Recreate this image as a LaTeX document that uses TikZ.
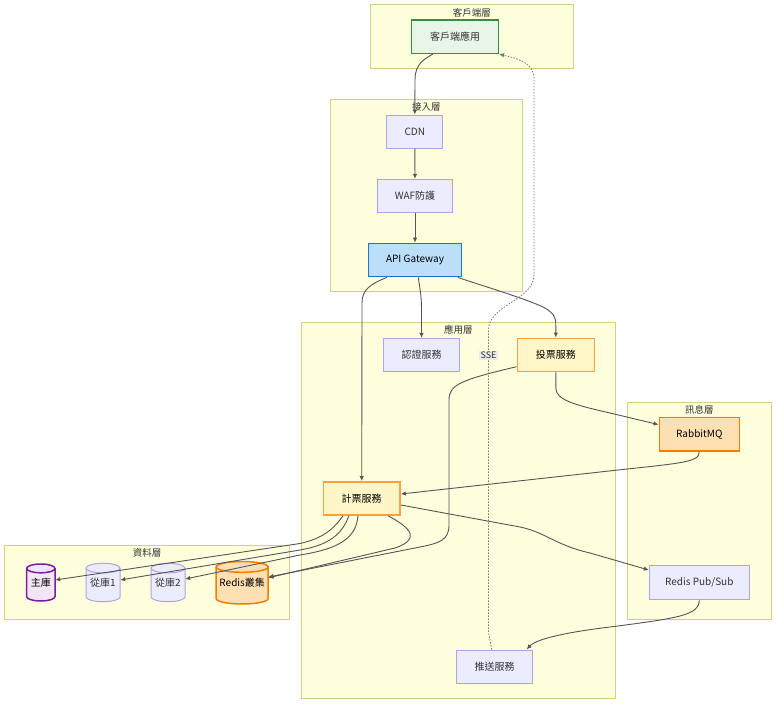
\documentclass[tikz,border=0pt]{standalone}
\usepackage{fontspec}
\setmainfont{Noto Sans CJK TC}
\usetikzlibrary{arrows.meta}
\definecolor{clfill}{HTML}{FFFFDE}
\definecolor{clline}{HTML}{D0D08A}
\definecolor{nfill}{HTML}{ECECFF}
\definecolor{nline}{HTML}{B4A0E6}
\definecolor{txt}{HTML}{333333}
\definecolor{edgec}{HTML}{555555}
\definecolor{clientfill}{HTML}{E8F5E9}
\definecolor{clientline}{HTML}{388E3C}
\definecolor{apifill}{HTML}{BBDEFB}
\definecolor{apiline}{HTML}{1976D2}
\definecolor{svcfill}{HTML}{FFF6C8}
\definecolor{svcline}{HTML}{FFA040}
\definecolor{mqfill}{HTML}{FFE0B2}
\definecolor{mqline}{HTML}{F57C00}
\definecolor{mainfill}{HTML}{F3E5F5}
\definecolor{mainline}{HTML}{7B1FA2}
\newcommand\dbshape[6]{%
  \path[#6] (#1-#4,#2+#5) -- (#1-#4,#3-#5) arc[start angle=180,end angle=0,x radius=#4,y radius=#5] -- (#1+#4,#2+#5) arc[start angle=0,end angle=-180,x radius=#4,y radius=#5] -- cycle;
  \path[#6,fill=none] (#1-#4,#2+#5) arc[start angle=180,end angle=0,x radius=#4,y radius=#5];
}
\begin{document}
\begin{tikzpicture}[x=1pt,y=-1pt,
  cluster/.style={draw=clline,fill=clfill,line width=1pt},
  ctitle/.style={text=txt,font=\fontsize{9.5}{11}\selectfont,inner sep=0pt},
  box/.style={rectangle,draw=nline,fill=nfill,line width=1pt,text=txt,font=\fontsize{10}{12}\selectfont,inner sep=0pt,minimum height=33.3pt},
  clientbox/.style={box,draw=clientline,fill=clientfill,line width=1.5pt},
  apibox/.style={box,draw=apiline,fill=apifill,line width=1.5pt,text=black},
  svcbox/.style={box,draw=svcline,fill=svcfill,line width=1.5pt,text=black},
  mqbox/.style={box,draw=mqline,fill=mqfill,line width=1.5pt,text=black},
  dbtext/.style={inner sep=0pt,text=txt,font=\fontsize{10}{12}\selectfont},
  edge/.style={draw=edgec,line width=0.9pt,-{Latex[length=5pt,width=4.5pt]}},
  dotedge/.style={draw=edgec!80,line width=0.8pt,dash pattern=on 1.5pt off 1.5pt,-{Latex[length=5pt,width=4.5pt]}},
  elabel/.style={fill=gray!18,fill opacity=0.9,text opacity=1,text=txt,font=\fontsize{9}{10}\selectfont,inner sep=1.5pt}
]
\useasboundingbox (0,0) rectangle (784,711);
\fill[white] (0,0) rectangle (784,711);

% clusters
\draw[cluster] (370.5,5) rectangle (573,68.5);
\node[ctitle] (tclient) at (471.8,12.5) {客戶端層};
\draw[cluster] (330.7,99.3) rectangle (522,291.7);
\node[ctitle] (taccess) at (426.3,106.5) {接入層};
\draw[cluster] (301.7,322.7) rectangle (615,698.3);
\node[ctitle] (tapp) at (458.3,330) {應用層};
\draw[cluster] (627.7,402.3) rectangle (771,619.3);
\node[ctitle] (tmsg) at (699.3,409.5) {訊息層};
\draw[cluster] (4.7,545.7) rectangle (289.3,619);
\node[ctitle] (tdata) at (147,552.5) {資料層};

% nodes
\node[clientbox,minimum width=86.6pt] (client) at (455,36.7) {客戶端應用};
\node[box,minimum width=55.7pt] (cdn) at (414.8,131.7) {CDN};
\node[box,minimum width=75.4pt] (waf) at (415,196) {WAF防護};
\node[apibox,minimum width=93.4pt] (api) at (415,260) {API Gateway};
\node[box,minimum width=76.4pt] (auth) at (421.5,355) {認證服務};
\node[svcbox,minimum width=77pt] (vote) at (555.8,355) {投票服務};
\node[svcbox,minimum width=76.7pt] (count) at (361.7,498.4) {計票服務};
\node[box,minimum width=76pt] (push) at (494.7,666.7) {推送服務};
\node[mqbox,minimum width=80pt] (mq) at (699.3,434.3) {RabbitMQ};
\node[box,minimum width=100pt,minimum height=33.6pt] (pubsub) at (699.3,582.5) {Redis Pub/Sub};

% databases
\dbshape{40.8}{564}{601}{14.2}{4.4}{draw=mainline,fill=mainfill,line width=1.5pt}
\node[dbtext,text=black,minimum width=28.4pt,minimum height=37pt] (main) at (40.8,582.5) {\raisebox{-4pt}{主庫}};
\dbshape{103}{563.3}{601.7}{17}{4.8}{draw=nline,fill=nfill,line width=1pt}
\node[dbtext,minimum width=34pt,minimum height=38.4pt] (s1) at (103,582.5) {\raisebox{-4pt}{從庫1}};
\dbshape{168}{563.3}{601.7}{17}{4.8}{draw=nline,fill=nfill,line width=1pt}
\node[dbtext,minimum width=34pt,minimum height=38.4pt] (s2) at (168,582.5) {\raisebox{-4pt}{從庫2}};
\dbshape{242.2}{561.5}{604}{26}{5.4}{draw=mqline,fill=mqfill,line width=1.5pt}
\node[dbtext,text=black,minimum width=52pt,minimum height=42.5pt] (redis) at (242.2,582.8) {\raisebox{-4pt}{Redis叢集}};

% edges
\draw[edge] ([xshift=-22.3pt]client.south) .. controls (425,59) and (415,63) .. (415,80) -- (cdn.north);
\draw[edge] (cdn.south) -- (waf.north);
\draw[edge] (waf.south) -- (api.north);
\draw[edge] ([xshift=-28pt]api.south) .. controls (370,284) and (362,290) .. (362,303) -- (count.north);
\draw[edge] ([xshift=3.3pt]api.south) .. controls (420,290) and (421.5,295) .. (421.5,310) -- (auth.north);
\draw[edge] ([xshift=42.7pt]api.south) .. controls (480,285) and (530,300) .. (545,308) .. controls (553,313) and (555.8,316) .. (555.8,325) -- (vote.north);
\draw[edge] (vote.south) -- (555.8,388) .. controls (555.8,400) and (575,405) .. (610,413) -- ([yshift=9.7pt]mq.west);
\draw[edge] (mq.south) .. controls (699.3,463) and (680,463) .. (600,472) -- ([yshift=4.4pt]count.east);
\draw[edge] ([yshift=-11.7pt]vote.west) .. controls (460,380) and (449,385) .. (449,400) -- (449,525) .. controls (449,540) and (440,543) .. (420,547) -- ([yshift=5.8pt]redis.east);
\draw[edge] ([xshift=26.3pt]count.south) .. controls (415,530) and (418,540) .. (395,548) -- ([yshift=5pt]redis.east);
\draw[edge] ([xshift=-18.7pt]count.south) .. controls (335,527) and (325,538) .. (300,543.5) -- ([yshift=2.5pt]main.east);
\draw[edge] ([xshift=-12.7pt]count.south) .. controls (343,530) and (335,544) .. (300,550) -- ([yshift=2.5pt]s1.east);
\draw[edge] ([xshift=-3.7pt]count.south) .. controls (356,535) and (345,548) .. (300,555) -- ([yshift=3.5pt]s2.east);
\draw[edge] ([yshift=-6.6pt]count.east) -- (520,527) .. controls (545,532) and (555,545) .. (590,553) -- ([yshift=12.5pt]pubsub.west);
\draw[edge] (pubsub.south) .. controls (699.3,615) and (680,618) .. (610,627) .. controls (560,633) and (535,640) .. ([xshift=32pt]push.north);
\draw[dotedge] ([xshift=-3pt]push.north) -- (488.5,632) -- (488.5,330) .. controls (488.5,305) and (534,300) .. (534,275) -- (534,78) .. controls (534,62) and (515,58) .. (client.south east);
\node[elabel] (sse) at (488.5,355.5) {SSE};
\end{tikzpicture}
\end{document}
